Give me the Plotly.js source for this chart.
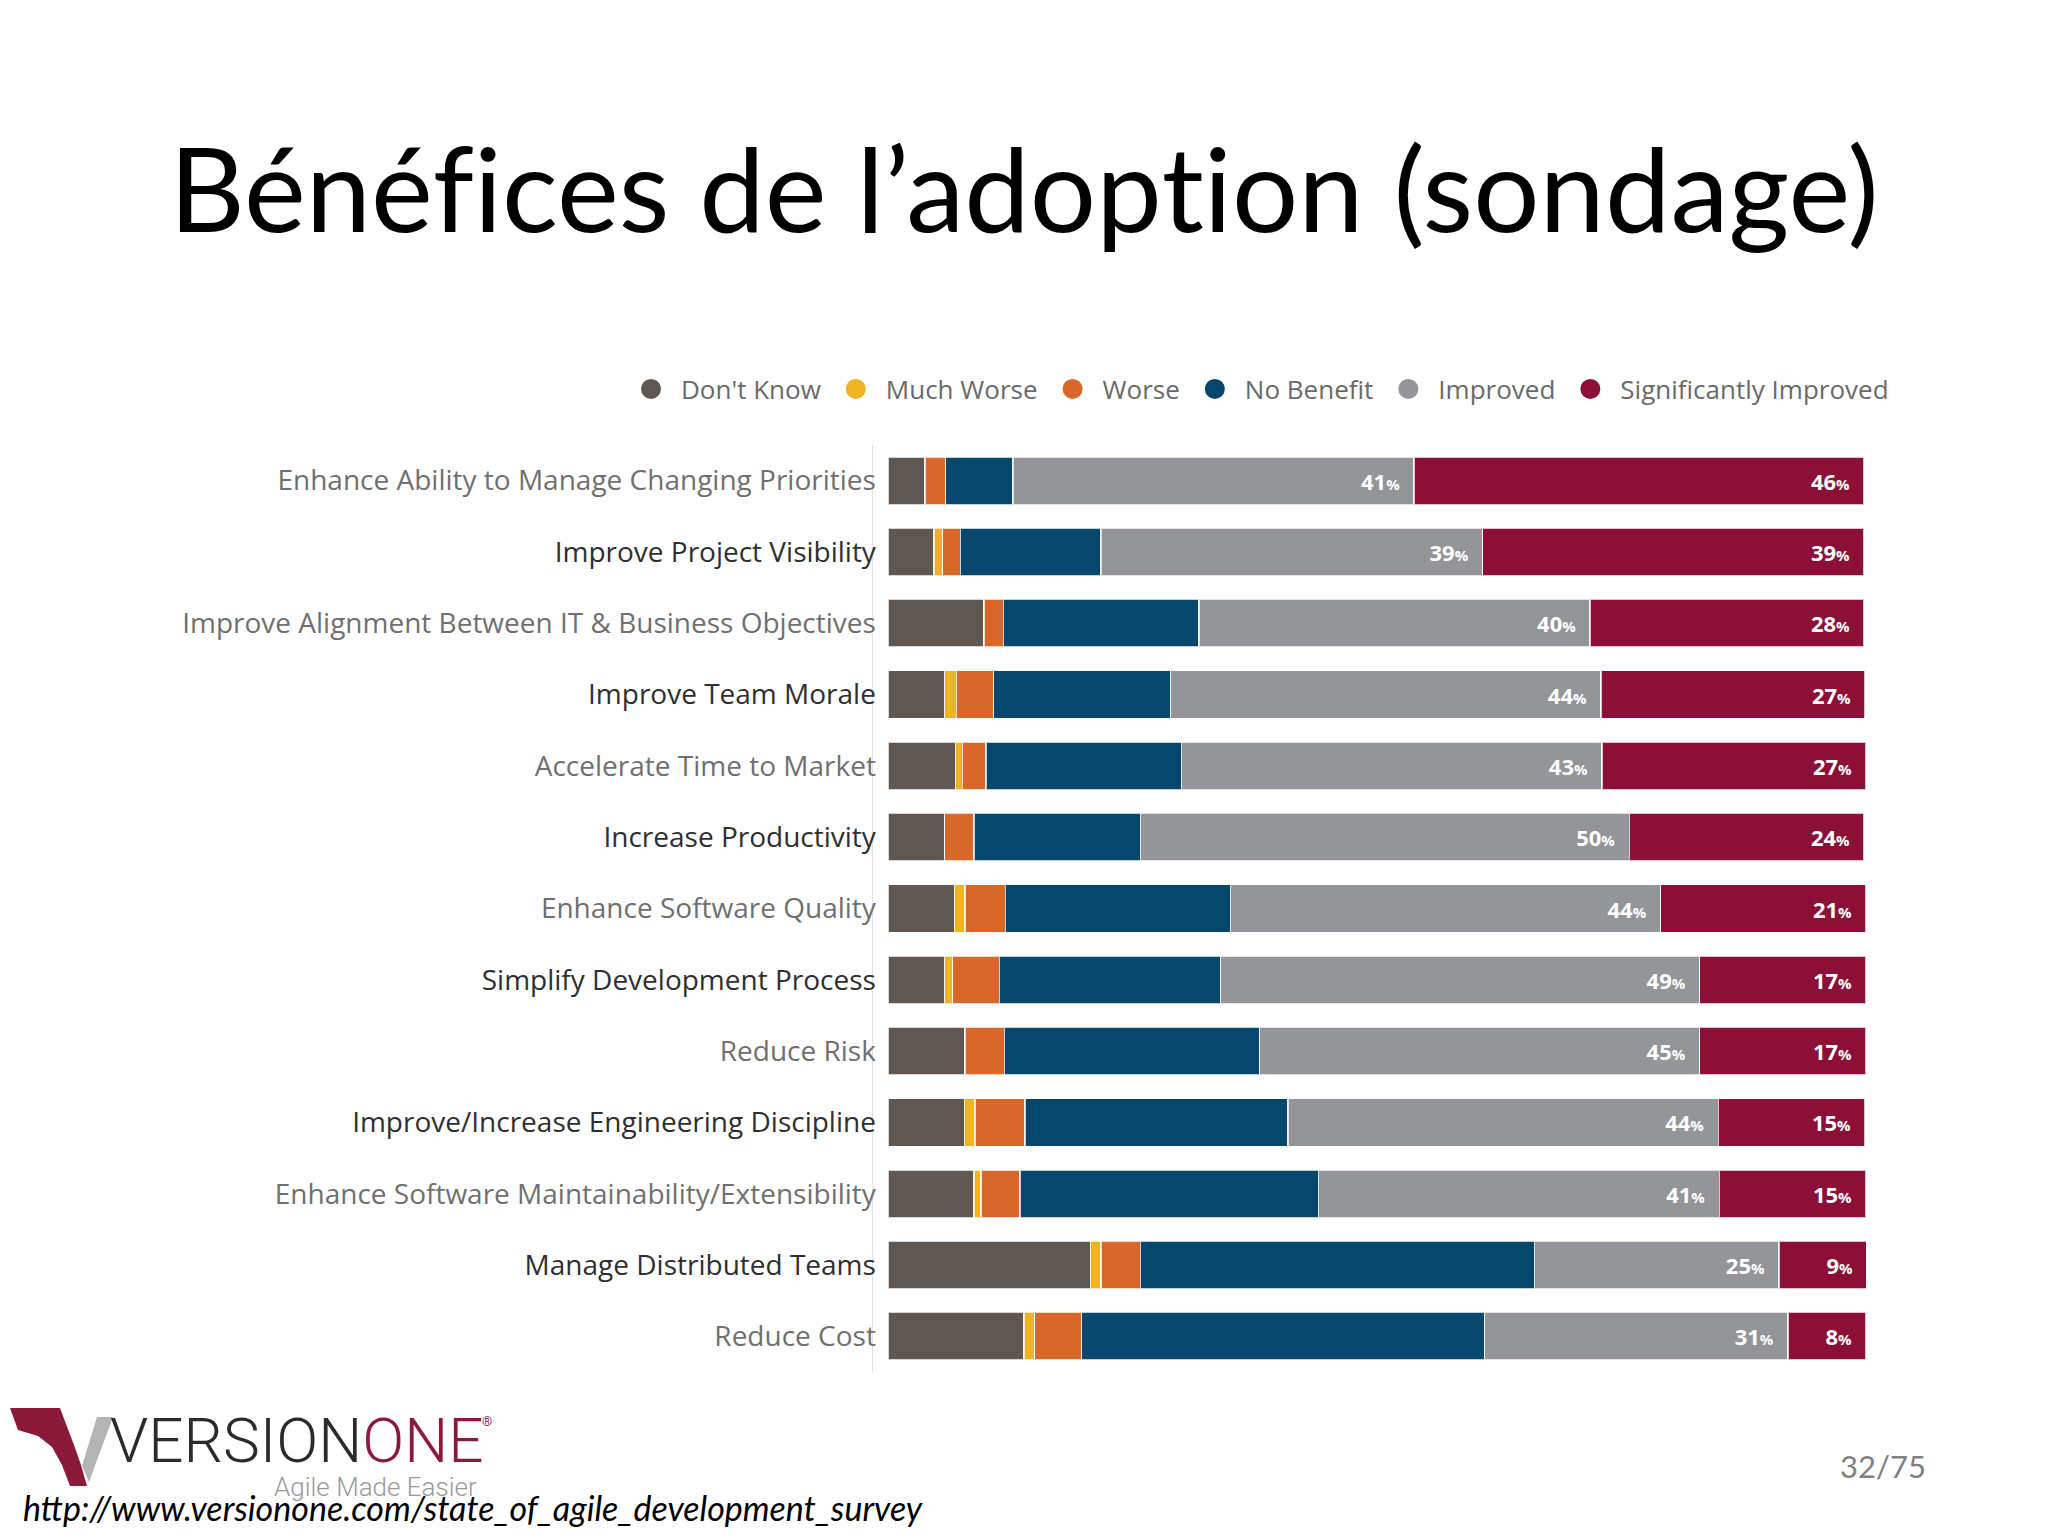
<!DOCTYPE html>
<html>
<head>
<meta charset="utf-8">
<script src="https://cdn.plot.ly/plotly-3.0.1.min.js"></script>
<style>
  html, body { margin: 0; padding: 0; background: #ffffff; }
  #chart { width: 2048px; height: 1536px; }
</style>
</head>
<body>
<div id="chart"></div>
<script>
// ---- data ----
const categories = [
  "Enhance Ability to Manage Changing Priorities",
  "Improve Project Visibility",
  "Improve Alignment Between IT & Business Objectives",
  "Improve Team Morale",
  "Accelerate Time to Market",
  "Increase Productivity",
  "Enhance Software Quality",
  "Simplify Development Process",
  "Reduce Risk",
  "Improve/Increase Engineering Discipline",
  "Enhance Software Maintainability/Extensibility",
  "Manage Distributed Teams",
  "Reduce Cost"
];
const seriesNames = ["Don't Know", "Much Worse", "Worse", "No Benefit", "Improved", "Significantly Improved"];
const dontKnow    = [3.8, 4.7, 9.8, 5.8, 6.9, 5.8, 6.8, 5.8, 7.9, 7.8, 8.8, 20.7, 13.9];
const muchWorse   = [0, 0.9, 0, 1.2, 0.7, 0, 1.1, 0.8, 0, 1.1, 0.7, 1.1, 1.1];
const worse       = [2.1, 1.8, 2.0, 3.8, 2.4, 3.0, 4.1, 4.8, 4.0, 5.1, 4.0, 4.0, 4.8];
const noBenefit   = [6.9, 14.4, 20.0, 18.1, 20.0, 17.0, 23.0, 22.6, 26.1, 26.9, 30.5, 40.3, 41.2];
const improved    = [41, 39, 40, 44, 43, 50, 44, 49, 45, 44, 41, 25, 31];
const sigImproved = [46, 39, 28, 27, 27, 24, 21, 17, 17, 15, 15, 9, 8];
const seriesColors = ["#5f5751", "#f0b323", "#d8672a", "#07476d", "#939598", "#8b0f37"];

// ---- geometry helpers (pixel -> paper) ----
const W = 2048, H = 1536;
const L = 873, R = 1866, T = 445, B = 1372;
const px = v => (v - L) / (R - L);
const py = v => (B - v) / (B - T);
function path(pts) {
  return pts.map((p, i) => (i ? 'L' : 'M') + px(p[0]).toFixed(5) + ',' + py(p[1]).toFixed(5)).join(' ') + ' Z';
}

const allSeries = [dontKnow, muchWorse, worse, noBenefit, improved, sigImproved];
const pctText = arr => arr.map(v => v + '<span style="font-size:15px">%</span>\u00a0\u00a0');

const traces = allSeries.map((vals, i) => {
  const t = {
    type: 'bar',
    orientation: 'h',
    name: seriesNames[i],
    y: categories,
    x: vals,
    marker: { color: seriesColors[i], line: { color: 'rgba(255,255,255,0.75)', width: 1.5 } },
    showlegend: false,
    hoverinfo: 'x+name'
  };
  if (i >= 4) {
    t.text = pctText(vals);
    t.textposition = 'inside';
    t.insidetextanchor = 'end';
    t.textangle = 0;
    t.constraintext = 'none';
    t.textfont = { family: 'Open Sans', size: 22, color: '#ffffff', weight: 700 };
  } else {
    t.textposition = 'none';
  }
  return t;
});

// legend proxies (circle symbols)
seriesNames.forEach((n, i) => {
  traces.push({
    type: 'scatter', mode: 'markers', name: n,
    x: [null], y: [null],
    marker: { color: seriesColors[i], size: 16, symbol: 'circle', line: { color: seriesColors[i], width: 4 } },
    showlegend: true, hoverinfo: 'skip'
  });
});

const labelColors = categories.map((c, i) => i % 2 === 0 ? '#707070' : '#2f2f2f');
const tickText = categories.map((c, i) => '<span style="color:' + labelColors[i] + '">' + c.replace('&', '&amp;') + '</span>');

const layout = {
  width: W, height: H,
  paper_bgcolor: '#ffffff', plot_bgcolor: '#ffffff',
  margin: { l: L, r: W - R, t: T, b: H - B, pad: 0 },
  barmode: 'stack',
  bargap: 0.33,
  title: {
    text: 'Béné<span style="font-size:117.5px">f</span>ices de l’adop<span style="font-size:117.5px">t</span>ion (sondage)',
    font: { family: 'Lato', size: 117, color: '#000000' },
    x: 0.5, xanchor: 'center', xref: 'container',
    y: 1 - 191 / H, yanchor: 'middle', yref: 'container'
  },
  xaxis: {
    range: [-1.53, 100], showgrid: false, zeroline: false, showline: false,
    showticklabels: false, ticks: '', fixedrange: true
  },
  yaxis: {
    type: 'category', autorange: 'reversed',
    tickmode: 'array', tickvals: categories, ticktext: tickText,
    tickfont: { family: 'Open Sans', size: 28, color: '#707070' },
    showgrid: false, zeroline: false, ticks: '', ticklen: 0, ticklabelstandoff: -10,
    showline: true, linecolor: '#e2e2e2', linewidth: 1.5
  },
  legend: {
    orientation: 'h', xref: 'paper', x: px(621), xanchor: 'left',
    yref: 'paper', y: py(389), yanchor: 'middle',
    font: { family: 'Open Sans', size: 26, color: '#6a6a6a' },
    itemwidth: 50,
    traceorder: 'normal', itemclick: false, itemdoubleclick: false,
    bgcolor: 'rgba(0,0,0,0)'
  },
  showlegend: true,
  annotations: [
    { text: '32/75', xref: 'paper', yref: 'paper', x: px(1883), y: py(1466), xanchor: 'center', yanchor: 'middle',
      showarrow: false, font: { family: 'Lato', size: 31, color: '#808080' } },
    { text: '<span style="color:#2b2b2b">VERSION</span><span style="color:#8b1a3a">ONE</span>',
      xref: 'paper', yref: 'paper', x: px(108), y: py(1440), xanchor: 'left', yanchor: 'middle',
      showarrow: false, font: { family: 'Roboto', size: 62, weight: 300, color: '#2b2b2b' } },
    { text: '®', xref: 'paper', yref: 'paper', x: px(487), y: py(1421), xanchor: 'center', yanchor: 'middle',
      showarrow: false, font: { family: 'Roboto', size: 13, color: '#8b1a3a' } },
    { text: 'Agile Made Easier', xref: 'paper', yref: 'paper', x: px(272), y: py(1487), xanchor: 'left', yanchor: 'middle',
      showarrow: false, font: { family: 'Roboto', size: 26, weight: 300, color: '#9a9a9a' } },
    { text: '<i>http://www.versionone.com/state_of_agile_development_survey</i>', xref: 'paper', yref: 'paper',
      x: px(21), y: py(1507), xanchor: 'left', yanchor: 'middle',
      showarrow: false, font: { family: 'Lato', size: 34, color: '#000000' } }
  ],
  shapes: [
    { type: 'path', xref: 'paper', yref: 'paper', line: { width: 0 }, fillcolor: '#8b1a3a',
      path: path([[10,1408],[60,1408],[66,1424],[74,1445],[81,1465],[87,1486],[70,1486],[62,1465],[52,1447],[38,1436],[18,1430]]) },
    { type: 'path', xref: 'paper', yref: 'paper', line: { width: 0 }, fillcolor: '#b4b4b4',
      path: path([[97,1417],[113,1417],[89,1482],[82,1466]]) }
  ]
};

Plotly.newPlot('chart', traces, layout, { displayModeBar: false, staticPlot: true });
</script>
</body>
</html>
